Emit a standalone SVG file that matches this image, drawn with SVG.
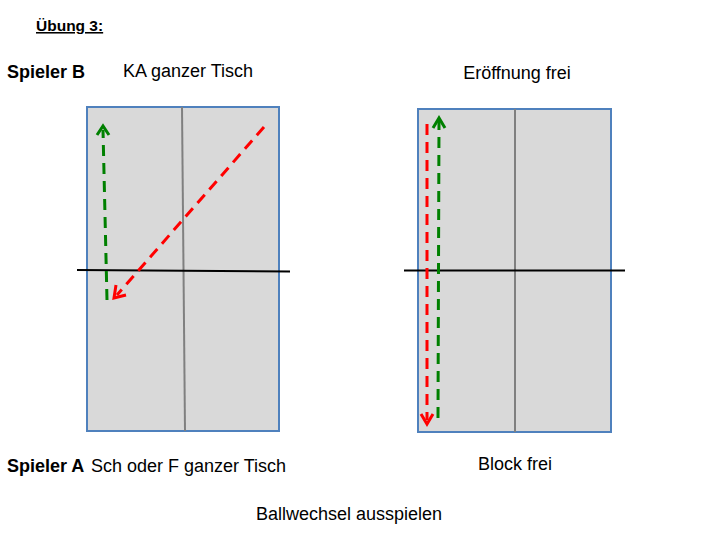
<svg xmlns="http://www.w3.org/2000/svg" width="720" height="540" viewBox="0 0 720 540">
<style>
text{font-family:"Liberation Sans",Arial,sans-serif;font-size:18px;fill:#000}
.b{font-weight:bold}
.title{font-size:15.5px;font-weight:bold;text-decoration:underline}
.table{fill:#d9d9d9;stroke:#4f81bd;stroke-width:2}
.mid{stroke:#808080;stroke-width:2}
.net{stroke:#000;stroke-width:2}
.red{stroke:#ff0000;stroke-width:3;stroke-dasharray:11,7;fill:none}
.green{stroke:#008000;stroke-width:3;stroke-dasharray:11,7;fill:none}
.rh{stroke:#ff0000;stroke-width:3;fill:none}
.gh{stroke:#008000;stroke-width:3;fill:none}
</style>
<rect width="720" height="540" fill="#fff"/>
<text class="title" x="36" y="31">Übung 3:</text>
<text class="b" x="7" y="78">Spieler B</text>
<text x="123" y="77">KA ganzer Tisch</text>
<text x="517" y="79" text-anchor="middle">Eröffnung frei</text>

<g id="table-left">
<rect class="table" x="87" y="107" width="192" height="324"/>
<line class="mid" x1="182" y1="107" x2="185" y2="431"/>
<line class="net" x1="77" y1="270" x2="290" y2="271.5"/>
</g>
<g id="table-right">
<rect class="table" x="418" y="109" width="193" height="323"/>
<line class="mid" x1="515" y1="109" x2="515" y2="432"/>
<line class="net" x1="404" y1="270.5" x2="625" y2="270.5"/>
</g>

<g id="connectors">
<line class="green" x1="107" y1="300" x2="103" y2="130"/>
<polyline class="gh" points="97,135 103,126 109,135"/>
<line class="red" x1="264" y1="127" x2="117" y2="295"/>
<polyline class="rh" points="116,285 114,298 126,295"/>
<line class="red" x1="427" y1="124" x2="427" y2="420"/>
<polyline class="rh" points="421,414 427,424 433,414"/>
<line class="green" x1="438" y1="418" x2="439" y2="121"/>
<polyline class="gh" points="433,128 439,118 445,128"/>
</g>

<text class="b" x="7" y="472">Spieler A</text>
<text x="91" y="472">Sch oder F ganzer Tisch</text>
<text x="515" y="470" text-anchor="middle">Block frei</text>
<text x="349" y="520" text-anchor="middle">Ballwechsel ausspielen</text>
</svg>
